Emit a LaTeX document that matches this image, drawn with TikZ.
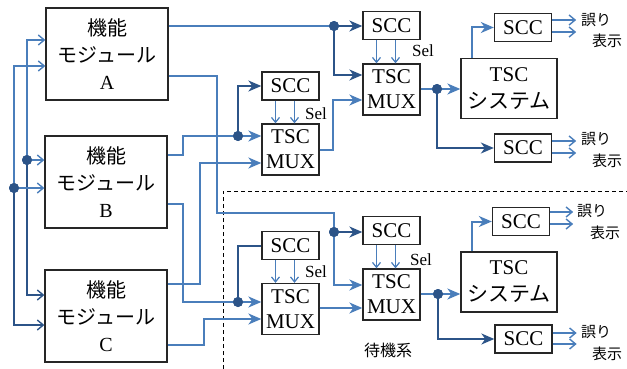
\documentclass[tikz,border=0pt]{standalone}
\usepackage{fontspec}
\setmainfont{Liberation Serif}
\newfontfamily\jp{Noto Sans CJK JP}
\usetikzlibrary{arrows.meta,calc}

\definecolor{lblue}{RGB}{74,126,187}
\definecolor{dblue}{RGB}{44,84,136}

\tikzset{
  box/.style={draw=black!85, line width=1.3pt, fill=white, inner sep=0pt, align=center,
              font=\fontsize{21}{25}\selectfont},
  modbox/.style={box, minimum width=122pt, minimum height=92pt, font=\fontsize{20}{27}\selectfont},
  sccbox/.style={box, minimum width=57pt, minimum height=28pt},
  muxbox/.style={box, minimum width=57pt, minimum height=51pt},
  sysbox/.style={box, minimum width=96pt, minimum height=60pt, font=\fontsize{21}{27}\selectfont},
  junc/.style={circle, fill=dblue, minimum size=10pt, inner sep=0pt},
  wire/.style={draw=lblue, line width=2pt},
  dwire/.style={draw=dblue, line width=2pt},
  bigtip/.style={-{Stealth[length=13pt, width=11pt, inset=4pt]}},
  barbtip/.style={-{Straight Barb[length=6pt, width=10pt, line width=1.4pt]}},
  seltip/.style={-{Straight Barb[length=5pt, width=8pt, line width=1.2pt]}},
  selwire/.style={draw=lblue, line width=1.4pt, seltip},
  outwire/.style={draw=lblue, line width=2pt, barbtip},
  sellab/.style={inner sep=0pt, font=\fontsize{17}{17}\selectfont},
  errlab/.style={inner sep=0pt, font=\jp\fontsize{15}{15}\selectfont},
}

\begin{document}
\begin{tikzpicture}[x=1pt, y=-1pt]
\useasboundingbox (0,0) rectangle (627,369);

% standby-side divider
\draw[black, line width=1pt, dash pattern=on 4pt off 3pt] (223,369) -- (223,191) -- (627,191);

% function modules
\node[modbox] (A) at (107,54)  {{\jp 機能}\\{\jp モジュール}\\A};
\node[modbox] (B) at (106,182) {{\jp 機能}\\{\jp モジュール}\\B};
\node[modbox] (C) at (106,316) {{\jp 機能}\\{\jp モジュール}\\C};

% active side
\node[sccbox] (SCC1) at (290.5,86)   {SCC};
\node[muxbox] (MUX1) at (290.5,149.5) {TSC\\MUX};
\node[sccbox] (SCC2) at (391.5,25.5) {SCC};
\node[muxbox] (MUX2) at (391.5,89.5) {TSC\\MUX};
\node[sysbox] (SYS1) at (509,88.5)  {TSC\\{\jp システム}};
\node[sccbox] (SCCa) at (523,27.5)  {SCC};
\node[sccbox] (SCCb) at (523,148)   {SCC};

% standby side
\node[sccbox] (SCC3) at (290.5,245.5) {SCC};
\node[muxbox] (MUX3) at (290.5,309)   {TSC\\MUX};
\node[sccbox] (SCC4) at (391.5,230.5) {SCC};
\node[muxbox] (MUX4) at (391.5,294.5) {TSC\\MUX};
\node[sysbox] (SYS2) at (509,282)     {TSC\\{\jp システム}};
\node[sccbox] (SCCc) at (521,221.5)   {SCC};
\node[sccbox] (SCCd) at (523.5,339)   {SCC};

% labels
\node[sellab] (S1) at (316,114) {Sel};
\node[sellab] (S2) at (423,51)  {Sel};
\node[sellab] (S3) at (316,272) {Sel};
\node[sellab] (S4) at (421,260) {Sel};
\node[errlab] (Ea1) at (596,20)  {誤り};
\node[errlab] (Ea2) at (607,41)  {表示};
\node[errlab] (Eb1) at (596,139) {誤り};
\node[errlab] (Eb2) at (607,161) {表示};
\node[errlab] (Ec1) at (592,211) {誤り};
\node[errlab] (Ec2) at (605,233) {表示};
\node[errlab] (Ed1) at (596,332) {誤り};
\node[errlab] (Ed2) at (607,354) {表示};
\node[errlab, font=\jp\fontsize{16}{16}\selectfont] (SB) at (388,350) {待機系};

% junction points
\node[junc] (L1) at (27,160) {};
\node[junc] (L2) at (14,188) {};
\node[junc] (D1) at (334,26)  {};
\node[junc] (D2) at (437,89)  {};
\node[junc] (D3) at (334,232) {};
\node[junc] (D4) at (238,136) {};
\node[junc] (D5) at (238,302) {};
\node[junc] (D6) at (438,294) {};

% input buses to the modules
\draw[wire, barbtip]  (L1.center) |- (A.west |- 0,40);
\draw[wire, barbtip]  (L1.center) -- (B.west |- L1);
\draw[dwire, barbtip] (L1.center) |- (C.west |- 0,295);
\draw[wire, barbtip]  (L2.center) |- (A.west |- 0,66);
\draw[wire, barbtip]  (L2.center) -- (B.west |- L2);
\draw[dwire, barbtip] (L2.center) |- (C.west |- 0,325);

% module A
\draw[wire] (A.east |- 0,26) -- (D1.center);
\draw[dwire, bigtip] (D1) -- (SCC2.west |- D1);
\draw[dwire, bigtip] (D1.center) |- (MUX2.west |- 0,75);
\draw[wire] (A.east |- 0,76) -| (217,213) -| (D3.center);
\draw[dwire, bigtip] (D3) -- (SCC4.west |- D3);
\draw[wire, bigtip] (D3.center) |- (MUX4.west |- 0,285);

% module B
\draw[wire] (B.east |- 0,155) -| (183,136) -- (D4.center);
\draw[wire, bigtip] (D4) -- (MUX1.west |- D4);
\draw[dwire, bigtip] (D4.center) |- (SCC1.west);
\draw[wire] (B.east |- 0,204) -| (183,302) -- (D5.center);
\draw[wire, bigtip] (D5) -- (MUX3.west |- D5);
\draw[dwire] (D5.center) |- (SCC3.west);

% module C
\draw[wire, bigtip] (C.east |- 0,284) -| (200,163) -- (MUX1.west |- 0,163);
\draw[wire, bigtip] (C.east |- 0,345) -| (204,319) -- (MUX3.west |- 0,319);

% first-stage multiplexers to second stage
\draw[wire, bigtip] (MUX1.east |- 0,150) -- ++(13,0) |- (MUX2.west |- 0,100);
\draw[wire, bigtip] (MUX3.east |- 0,308) -- (MUX4.west |- 0,308);

% second-stage outputs
\draw[wire] (MUX2.east |- D2) -- (D2.center);
\draw[wire, bigtip] (D2) -- (SYS1.west |- D2);
\draw[dwire, bigtip] (D2.center) |- (SCCb.west);
\draw[wire, bigtip] (SYS1.north -| 472,0) |- (SCCa.west);

\draw[wire] (MUX4.east |- D6) -- (D6.center);
\draw[wire, bigtip] (D6) -- (SYS2.west |- D6);
\draw[dwire, bigtip] (D6.center) |- (SCCd.west);
\draw[wire, bigtip] (SYS2.north -| 472,0) |- (SCCc.west);

% select lines
\foreach \s/\m in {SCC1/MUX1, SCC2/MUX2, SCC3/MUX3, SCC4/MUX4}{
  \draw[selwire] ([xshift=-15pt]\s.south) -- ([xshift=-15pt]\s.south |- \m.north);
  \draw[selwire] ([xshift=4pt]\s.south) -- ([xshift=4pt]\s.south |- \m.north);
}

% error indication outputs
\draw[outwire] (SCCa.east |- 0,20)  -- ++(24,0);
\draw[outwire] (SCCa.east |- 0,32)  -- ++(24,0);
\draw[outwire] (SCCb.east |- 0,141) -- ++(24,0);
\draw[outwire] (SCCb.east |- 0,153) -- ++(24,0);
\draw[outwire] (SCCc.east |- 0,212) -- ++(23,0);
\draw[outwire] (SCCc.east |- 0,224) -- ++(23,0);
\draw[outwire] (SCCd.east |- 0,333) -- ++(24,0);
\draw[outwire] (SCCd.east |- 0,344) -- ++(24,0);

% junction dots on top of the wires
\foreach \d in {L1,L2,D1,D2,D3,D4,D5,D6}{ \fill[dblue] (\d) circle (5pt); }
\end{tikzpicture}
\end{document}
